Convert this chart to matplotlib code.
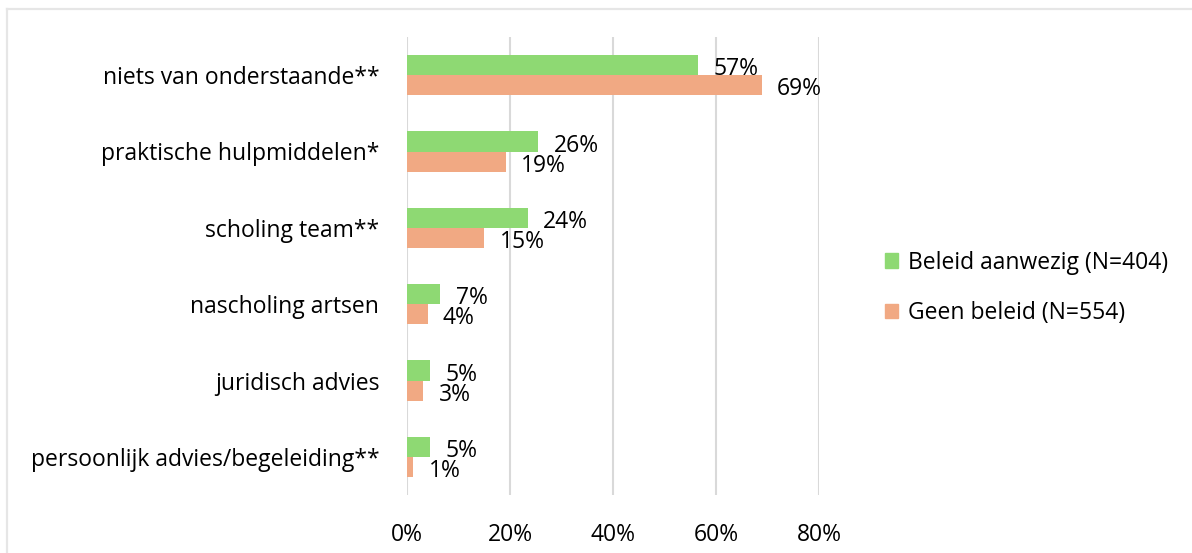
import matplotlib
matplotlib.use("Agg")
import matplotlib.pyplot as plt
from matplotlib.patches import Patch
from matplotlib.lines import Line2D
import numpy as np

categories = ['niets van onderstaande**', 'praktische hulpmiddelen*', 'scholing team**',
              'nascholing artsen', 'juridisch advies', 'persoonlijk advies/begeleiding**']
beleid = [56.5, 25.5, 23.5, 6.5, 4.5, 4.5]
beleid_labels = ['57%', '26%', '24%', '7%', '5%', '5%']
geen = [68.9, 19.2, 15.0, 4.0, 3.2, 1.2]
geen_labels = ['69%', '19%', '15%', '4%', '3%', '1%']
series_names = ['Beleid aanwezig (N=404)', 'Geen beleid (N=554)']
xticks = [0, 20, 40, 60, 80]

green = '#8ED973'
orange = '#F1A983'
grid = '#D9D9D9'
fs = 16.5

plt.rcParams['font.family'] = ['Open Sans', 'DejaVu Sans']

fig = plt.figure(figsize=(11.92, 5.53), dpi=100)
ax = fig.add_axes([407 / 1192, 58 / 553, 412 / 1192, 458 / 553])

# light frame (top and left edges only, the rest is cropped off)
fx, fy = 6.5 / 1192, 1 - 8.5 / 553
fig.lines.append(Line2D([fx, 1], [fy, fy], transform=fig.transFigure, color='#E6E6E6', linewidth=1.6))
fig.lines.append(Line2D([fx, fx], [0, fy], transform=fig.transFigure, color='#E6E6E6', linewidth=1.6))

y = np.arange(len(categories))
h = 0.263
ax.barh(y - h / 2, beleid, height=h, color=green, zorder=3)
ax.barh(y + h / 2, geen, height=h, color=orange, zorder=3)

for yi, v, lab in zip(y, beleid, beleid_labels):
    ax.annotate(lab, (v, yi - h / 2), xytext=(11, -3), textcoords='offset points',
                va='center', ha='left', fontsize=fs, color='black')
for yi, v, lab in zip(y, geen, geen_labels):
    ax.annotate(lab, (v, yi + h / 2), xytext=(11, -3), textcoords='offset points',
                va='center', ha='left', fontsize=fs, color='black')

ax.set_xlim(0, 80)
ax.set_ylim(len(categories) - 0.5, -0.5)
ax.set_xticks(xticks)
ax.set_xticklabels([f'{t}%' for t in xticks], fontsize=fs)
ax.set_yticks(y)
ax.set_yticklabels(categories, fontsize=fs)
ax.tick_params(axis='both', length=0)
ax.tick_params(axis='x', pad=20)
ax.tick_params(axis='y', pad=20)
ax.grid(axis='x', color=grid, linewidth=1.5, zorder=0)
for s in ax.spines.values():
    s.set_visible(False)

handles = [Patch(color=green), Patch(color=orange)]
fig.legend(handles, series_names, loc='center left', bbox_to_anchor=(864 / 1192, 1 - 288 / 553),
           frameon=False, fontsize=fs, handlelength=0.6, handleheight=0.6,
           handletextpad=0.4, labelspacing=1.15)

fig.savefig('out.png', dpi=100)
